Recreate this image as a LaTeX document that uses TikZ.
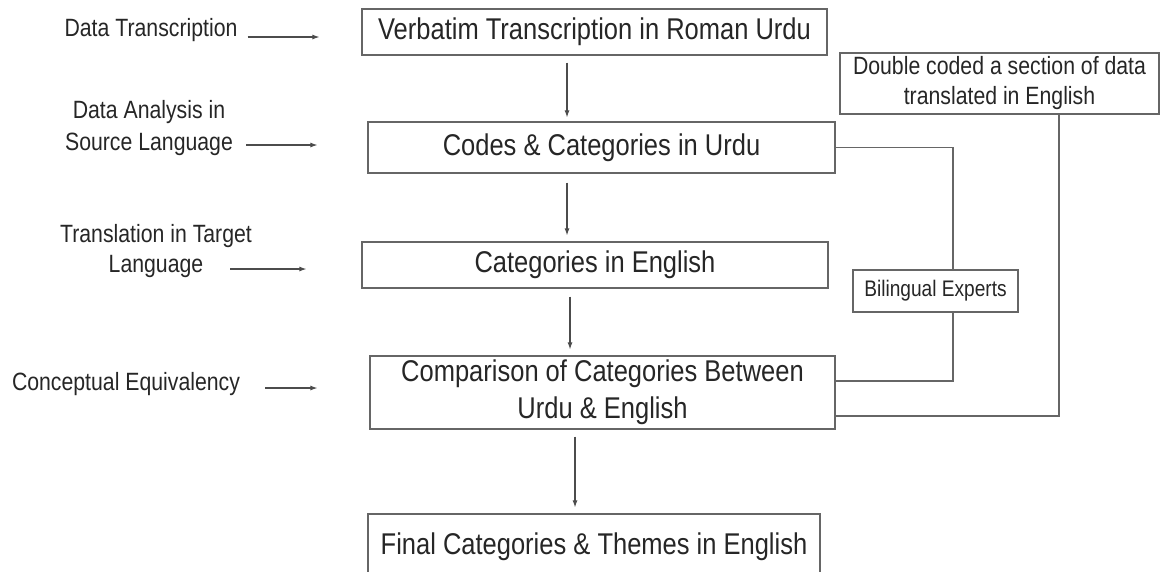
\documentclass[tikz,border=0pt]{standalone}
\usepackage{fontspec}
\setmainfont{Liberation Sans}[FakeStretch=0.85]
\usetikzlibrary{arrows.meta,calc}
\begin{document}
\begin{tikzpicture}[x=1pt,y=-1pt,
  box/.style={draw=black!60, line width=1.2pt, inner sep=0pt, align=center,
    font=\fontsize{30}{37}\selectfont, text=black!85},
  lab/.style={align=center, font=\fontsize{25}{32}\selectfont, text=black!85, inner sep=0pt},
  arr/.style={draw=black!70, line width=1.1pt, -{Latex[length=7pt,width=5pt]}},
  conn/.style={draw=black!60, line width=1.2pt}]
\useasboundingbox (0,0) rectangle (1166,571);
\clip (0,0) rectangle (1166,571);

% main boxes
\node[box, minimum width=465pt, minimum height=46pt] (b1) at (594.5,32) {Verbatim Transcription in Roman Urdu};
\node[box, minimum width=467pt, minimum height=51pt] (b2) at (601.5,147.5) {Codes \& Categories in Urdu};
\node[box, minimum width=466pt, minimum height=46pt] (b3) at (595,265) {Categories in English};
\node[box, minimum width=465pt, minimum height=73pt] (b4) at (602.5,392.5) {Comparison of Categories Between\\Urdu \& English};
\node[box, minimum width=452pt, minimum height=66pt] (b5) at (594,547) {Final Categories \& Themes in English};
\node[box, font=\fontsize{25}{30}\selectfont, minimum width=319pt, minimum height=61pt] (dc) at (999.5,83.5) {Double coded a section of data\\translated in English};
\node[box, font=\fontsize{22.5}{27}\selectfont, minimum width=165pt, minimum height=42pt] (bil) at (935.5,291) {Bilingual Experts};

% left labels
\node[lab, anchor=base] (lab1) at (151,36) {Data Transcription};
\node[lab] (lab2) at (149,127.6) {Data Analysis in\\Source Language};
\node[lab, font=\fontsize{25}{30}\selectfont] (lab3) at (156,250.6) {Translation in Target\\Language};
\node[lab, anchor=base] (lab4) at (126,390) {Conceptual Equivalency};

% label arrows
\draw[arr] ($(lab1.base east)+(10,1)$) -- ($(b1.west)+(-42,5)$);
\draw[arr] ($(lab2.east)+(13,17.4)$) -- ($(b2.west)+(-50,-2.5)$);
\draw[arr] ($(lab3.east)+(-22,18.4)$) -- ($(b3.west)+(-55,4)$);
\draw[arr] ($(lab4.base east)+(25,-2)$) -- ($(b4.west)+(-52,-4.5)$);

% vertical flow arrows
\coordinate (a1) at (567,0);
\coordinate (a3) at (570,0);
\coordinate (a4) at (575,0);
\draw[arr, shorten <=7pt, shorten >=4pt] (b1.south -| a1) -- (b2.north -| a1);
\draw[arr, shorten <=9pt, shorten >=6pt] (b2.south -| a1) -- (b3.north -| a1);
\draw[arr, shorten <=8pt, shorten >=6pt] (b3.south -| a3) -- (b4.north -| a3);
\draw[arr, shorten <=7pt, shorten >=6pt] (b4.south -| a4) -- (b5.north -| a4);

% side connectors
\coordinate (vx) at (953,0);
\coordinate (wx) at (1059,0);
\draw[conn] (b2.east) -| (vx |- bil.north);
\draw[conn] (vx |- bil.south) |- ($(b4.east)+(0,-11.5)$);
\draw[conn] (wx |- dc.south) |- ($(b4.east)+(0,23.5)$);
\end{tikzpicture}
\end{document}
